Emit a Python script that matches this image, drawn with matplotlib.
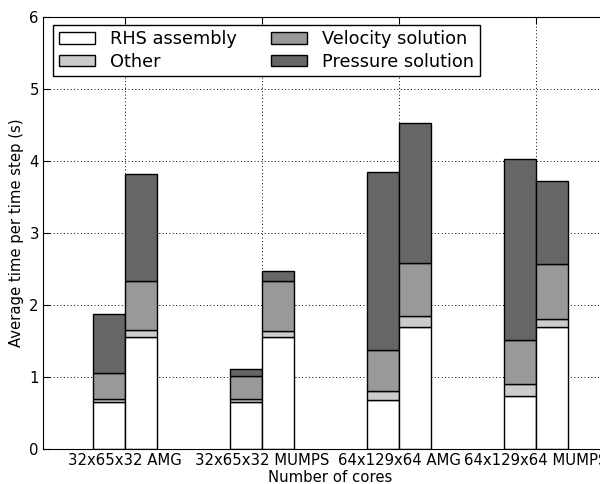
import numpy as np
import matplotlib
matplotlib.use('Agg')
import matplotlib.pyplot as plt

# Groups and the two bars per group
groups = ['32x65x32 AMG', '32x65x32 MUMPS', '64x129x64 AMG', '64x129x64 MUMPS']

# left bar of each group
rhs_a = [0.65, 0.65, 0.68, 0.74]
other_a = [0.05, 0.04, 0.13, 0.16]
vel_a = [0.35, 0.32, 0.565, 0.61]
press_a = [0.82, 0.10, 2.475, 2.52]

# right bar of each group
rhs_b = [1.56, 1.555, 1.69, 1.70]
other_b = [0.09, 0.09, 0.16, 0.105]
vel_b = [0.69, 0.69, 0.74, 0.76]
press_b = [1.48, 0.14, 1.94, 1.155]

labels = ['RHS assembly', 'Other', 'Velocity solution', 'Pressure solution']
colors = ['#ffffff', '#cccccc', '#999999', '#666666']

plt.rcParams['font.size'] = 10.7

fig = plt.figure(figsize=(6, 4.84), dpi=100)
ax = fig.add_axes([43/600, 35/484, 575/600, 432/484])

x = np.arange(len(groups))
w = 0.233

def stack(xpos, parts, with_label):
    bottom = np.zeros(len(xpos))
    for vals, c, lab in zip(parts, colors, labels):
        ax.bar(xpos, vals, w, bottom=bottom, color=c, edgecolor='black',
               linewidth=1, align='edge', label=lab if with_label else None)
        bottom += np.array(vals)

stack(x - w, [rhs_a, other_a, vel_a, press_a], True)
stack(x, [rhs_b, other_b, vel_b, press_b], False)

ax.set_xlim(-0.6, 3.6)
ax.set_ylim(0, 6)
ax.set_xticks(x)
ax.set_xticklabels(groups)
ax.set_yticks(range(7))
ax.grid(True, linestyle=(0, (1, 2.5)), color='black', linewidth=0.7)
ax.set_axisbelow(True)
ax.tick_params(direction='in', top=True, right=True, length=5, pad=3)
ax.set_xlabel('Number of cores', labelpad=1)
ax.set_ylabel('Average time per time step (s)')

leg = ax.legend(loc='upper left', bbox_to_anchor=(10.3/575, 1 - 8/432),
                borderaxespad=0, ncol=2, fancybox=False, framealpha=1,
                edgecolor='black', fontsize=12.8, handlelength=2.03,
                handleheight=0.62, handletextpad=0.85, columnspacing=1.94,
                labelspacing=0.24, borderpad=0.3)
leg.get_frame().set_linewidth(1)

fig.savefig('out.png', dpi=100)
